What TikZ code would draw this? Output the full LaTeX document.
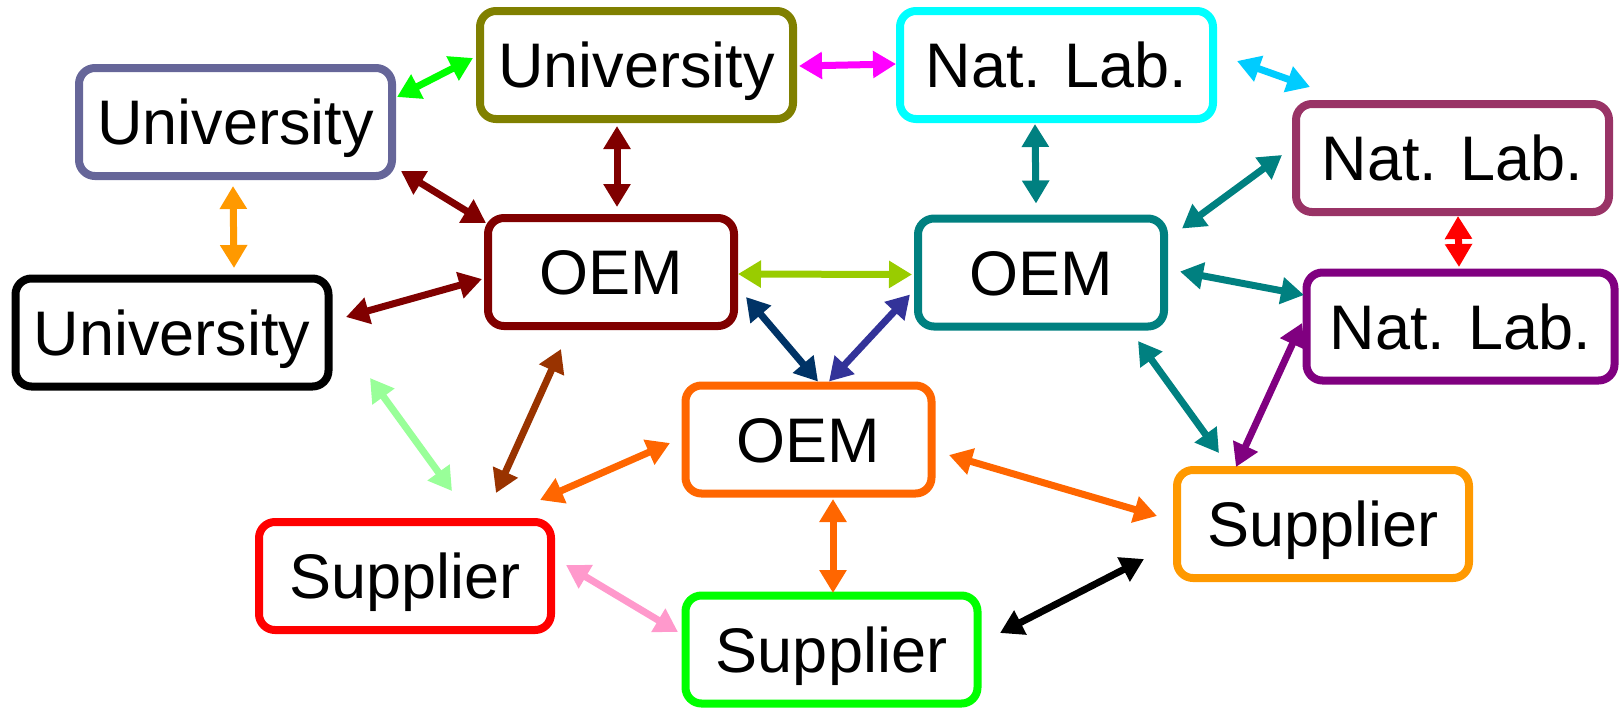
\documentclass[tikz,border=0pt]{standalone}
\usepackage{fontspec}
\setmainfont{Liberation Sans}
\usetikzlibrary{arrows.meta,calc}

\definecolor{slate}{HTML}{666699}
\definecolor{olive}{HTML}{808000}
\definecolor{aqua}{HTML}{00FFFF}
\definecolor{plum}{HTML}{993366}
\definecolor{maroon}{HTML}{800000}
\definecolor{teal}{HTML}{008080}
\definecolor{violet}{HTML}{800080}
\definecolor{tangerine}{HTML}{FF6600}
\definecolor{amber}{HTML}{FF9900}
\definecolor{lime}{HTML}{00FF00}
\definecolor{fuchsia}{HTML}{FF00FF}
\definecolor{sky}{HTML}{00CCFF}
\definecolor{yellowgreen}{HTML}{99CC00}
\definecolor{navy}{HTML}{003366}
\definecolor{indigo}{HTML}{333399}
\definecolor{mint}{HTML}{99FF99}
\definecolor{rust}{HTML}{993300}
\definecolor{rose}{HTML}{FF99CC}

\begin{document}
\begin{tikzpicture}[x=0.5pt, y=-0.5pt,
                round boxes/.style={draw, rectangle,%
                line width=4pt, rounded corners=8pt,
                minimum height=54pt, text=black,
                font=\fontsize{31.5pt}{36pt}\selectfont,
                text height=22.5pt, text depth=0pt,
                anchor=center, align=center},
                uni/.style={round boxes, minimum width=156.5pt},
                lab/.style={round boxes, minimum width=156.5pt},
                oem/.style={round boxes, minimum width=123pt},
                sup/.style={round boxes, minimum width=146pt},
                link/.style={line width=3.5pt,
                {Triangle[length=11.5pt,width=13pt]}-{Triangle[length=11.5pt,width=13pt]}}
                ]
\useasboundingbox (0,0) rectangle (1621,708);

%% Universities
\node [uni, draw=slate]  (uni1) at (235.5,122) {University};
\node [uni, draw=olive]  (uni2) at (636.5,65)  {University};
\node [uni, draw=black]  (uni3) at (172,332.5) {University};

%% National labs
\node [lab, draw=aqua]   (lab1) at (1056.5,65) {Nat. Lab.};
\node [lab, draw=plum]   (lab2) at (1452.5,158) {Nat. Lab.};
\node [lab, draw=violet, minimum width=154pt] (lab3) at (1460.5,326.5) {Nat. Lab.};

%% OEMs
\node [oem, draw=maroon]    (oem1) at (611,272)     {OEM};
\node [oem, draw=teal]      (oem2) at (1041,272.5)  {OEM};
\node [oem, draw=tangerine] (oem3) at (808.5,439.5) {OEM};

%% Suppliers
\node [sup, draw=red]    (sup1) at (405,576)     {Supplier};
\node [sup, draw=amber]  (sup2) at (1323,524)    {Supplier};
\node [sup, draw=lime]   (sup3) at (831.5,649.5) {Supplier};

%%
%%%% University links
\draw [link, lime]    ($(uni1.east)+(1,-25)$) -- ($(uni2.west)+(-3,-7)$);
\draw [link, fuchsia] ($(uni2.east)+(2,1)$) -- ($(lab1.west)+(0,-1)$);
\draw [link, amber]   ($(uni1.south)+(-2.5,6)$) -- ($(uni3.north)+(62,-6.5)$);
\draw [link, maroon]  ($(uni2.south)+(-19.5,3)$) -- ($(oem1.north)+(6,-7)$);
\draw [link, maroon]  ($(uni1.south east)+(5,-9)$) -- ($(oem1.north west)+(2,9)$);
\draw [link, maroon]  ($(uni3.east)+(13.5,-15.5)$) -- ($(oem1.west)+(-2,7)$);
\draw [link, mint]    ($(uni3.south east)+(37.5,-12.5)$) -- ($(sup1.north)+(47,-27)$);

%%
%%%% Nat. Lab. links
\draw [link, sky]    ($(lab1.east)+(20,-4)$) -- ($(lab2.north west)+(18,-13)$);
\draw [link, teal]   ($(lab1.south)+(-21.5,1)$) -- ($(oem2.north)+(-5,-11)$);
\draw [link, red]    ($(lab2.south)+(5.5,0)$) -- ($(lab3.north)+(-1.5,-1.5)$);
\draw [link, teal]   ($(oem2.north east)+(14,14)$) -- ($(lab2.west)+(-10,-3)$);
\draw [link, teal]   ($(oem2.east)+(12,-1)$) -- ($(lab3.west)+(1.5,-31.5)$);
\draw [link, violet] ($(lab3.west)+(-0.5,-3.5)$) -- ($(sup2.north)+(-87,1)$);

%%
%%%% OEM links
\draw [link, yellowgreen] ($(oem1.east)+(0,2)$) -- ($(oem2.west)+(-2,2)$);
\draw [link, navy]   ($(oem1.east)+(8,25)$) -- ($(oem3.north)+(9.5,0)$);
\draw [link, indigo] ($(oem3.north)+(20.5,0)$) -- ($(oem2.west)+(-4,22)$);
\draw [link, teal]   ($(oem2.south east)+(-30,10.5)$) -- ($(sup2.north west)+(46,-13)$);

%%
%%%% Supplier links
\draw [link, rust]      ($(sup1.north)+(91,-25)$) -- ($(oem1.south)+(-50,19)$);
\draw [link, tangerine] ($(sup1.north east)+(-15,-18)$) -- ($(oem3.west)+(-11.5,3.5)$);
\draw [link, rose]      ($(sup1.east)+(11,-11)$) -- ($(sup3.west)+(-3.5,-17.5)$);
\draw [link, tangerine] ($(oem3.south)+(24.5,1.5)$) -- ($(sup3.north)+(1.5,1.5)$);
\draw [link, tangerine] ($(oem3.east)+(13.5,15.5)$) -- ($(sup2.west)+(-16,-8)$);
\draw [link, black]     ($(sup3.east)+(18.5,-16.5)$) -- ($(sup2.west)+(-29,35)$);

\end{tikzpicture}
\end{document}
